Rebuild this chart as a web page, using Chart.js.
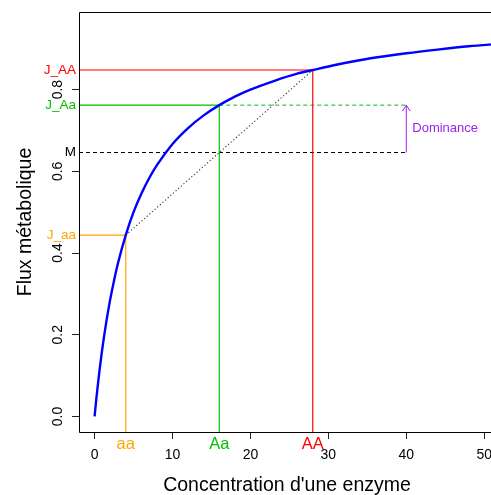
<!DOCTYPE html>
<html>
<head>
<meta charset="utf-8">
<script src="https://cdn.jsdelivr.net/npm/chart.js@4.4.1/dist/chart.umd.min.js"></script>
<style>
    html, body { margin: 0; padding: 0; overflow: hidden; background: #fff; }
    #wrap { width: 500px; height: 495px; position: relative; }
</style>
</head>
<body>
<div id="wrap"><canvas id="fluxChart"></canvas></div>
<script>
// enzyme concentration vs metabolic flux
const concentration = [0, 0.25, 0.5, 1, 1.5, 2, 2.5, 3, 4, 5, 6, 7, 8, 10, 12, 14, 16, 18, 20, 23, 26, 28, 31, 34, 37, 40, 44, 48, 52];
const flux = [0, 0.048, 0.091, 0.167, 0.231, 0.286, 0.333, 0.375, 0.444, 0.5, 0.545, 0.583, 0.615, 0.667, 0.706, 0.737, 0.762, 0.783, 0.8, 0.821, 0.839, 0.848, 0.861, 0.872, 0.881, 0.889, 0.898, 0.906, 0.912];

// genotypes
const genotypes = ['aa', 'Aa', 'AA'];
const genotypeConc = [4, 16, 28];
const genotypeFlux = [0.444, 0.762, 0.848];
const fluxLabels = ['J_aa', 'J_Aa', 'J_AA'];
const meanFlux = 0.646;
const dominanceX = 40;

const xTicks = [0, 10, 20, 30, 40, 50];
const yTicks = [0, 0.2, 0.4, 0.6, 0.8];
const yTickLabels = ['0.0', '0.2', '0.4', '0.6', '0.8'];

const X_MIN = -2, X_MAX = 52, Y_MIN = -0.038, Y_MAX = 0.99;
const genotypeColors = ['#FFA500', '#00C000', '#FF0000'];
const purple = '#A020F0';
const FONT = "'Liberation Sans', Arial, Helvetica, sans-serif";

const ctx = document.getElementById('fluxChart').getContext('2d');

const datasets = [];
datasets.push({
    data: concentration.map((c, i) => ({ x: c, y: flux[i] })),
    borderColor: '#0000FF',
    borderWidth: 2.4,
    cubicInterpolationMode: 'monotone',
    order: 0
});
genotypes.forEach((g, i) => {
    datasets.push({
        data: [
            { x: X_MIN, y: genotypeFlux[i] },
            { x: genotypeConc[i], y: genotypeFlux[i] },
            { x: genotypeConc[i], y: Y_MIN }
        ],
        borderColor: genotypeColors[i],
        borderWidth: 1.2,
        order: 2
    });
});
// heterozygote flux, extended to the arrow
datasets.push({
    data: [{ x: genotypeConc[1], y: genotypeFlux[1] }, { x: dominanceX, y: genotypeFlux[1] }],
    borderColor: genotypeColors[1],
    borderWidth: 1,
    borderDash: [4, 3],
    order: 2
});
// mean of homozygotes
datasets.push({
    data: [{ x: X_MIN, y: meanFlux }, { x: dominanceX, y: meanFlux }],
    borderColor: '#000',
    borderWidth: 1,
    borderDash: [4, 3],
    order: 2
});
// additive line between homozygotes
datasets.push({
    data: [{ x: genotypeConc[0], y: genotypeFlux[0] }, { x: genotypeConc[2], y: genotypeFlux[2] }],
    borderColor: '#333',
    borderWidth: 1.1,
    borderDash: [1.2, 2.3],
    order: 2
});
// dominance arrow shaft
datasets.push({
    data: [{ x: dominanceX, y: meanFlux }, { x: dominanceX, y: genotypeFlux[1] }],
    borderColor: purple,
    borderWidth: 1,
    order: 2
});
datasets.forEach(d => {
    d.showLine = true;
    d.pointRadius = 0;
    d.fill = false;
});

const annotations = {
    id: 'annotations',
    afterDraw(chart) {
        const { ctx, chartArea, scales: { x, y } } = chart;
        ctx.save();

        // box (right side falls outside the window)
        ctx.strokeStyle = '#000';
        ctx.lineWidth = 1;
        ctx.beginPath();
        ctx.moveTo(chartArea.right, chartArea.top + 0.5);
        ctx.lineTo(chartArea.left + 0.5, chartArea.top + 0.5);
        ctx.lineTo(chartArea.left + 0.5, chartArea.bottom + 0.5);
        ctx.lineTo(chartArea.right, chartArea.bottom + 0.5);
        ctx.stroke();

        // arrow head
        const ax = x.getPixelForValue(dominanceX);
        const ay = y.getPixelForValue(genotypeFlux[1]);
        ctx.strokeStyle = purple;
        ctx.beginPath();
        ctx.moveTo(ax - 4, ay + 6);
        ctx.lineTo(ax, ay);
        ctx.lineTo(ax + 4, ay + 6);
        ctx.stroke();

        ctx.fillStyle = purple;
        ctx.font = '13px ' + FONT;
        ctx.textAlign = 'left';
        ctx.textBaseline = 'middle';
        ctx.fillText('Dominance', ax + 6, y.getPixelForValue((meanFlux + genotypeFlux[1]) / 2));

        // y tick labels, rotated like R
        ctx.fillStyle = '#000';
        ctx.font = '14px ' + FONT;
        ctx.textAlign = 'center';
        ctx.textBaseline = 'alphabetic';
        yTicks.forEach((v, i) => {
            ctx.save();
            ctx.translate(61.5, y.getPixelForValue(v));
            ctx.rotate(-Math.PI / 2);
            ctx.fillText(yTickLabels[i], 0, 0);
            ctx.restore();
        });

        // flux labels in the margin
        ctx.font = '13.5px ' + FONT;
        ctx.textAlign = 'right';
        ctx.textBaseline = 'middle';
        genotypes.forEach((g, i) => {
            ctx.fillStyle = genotypeColors[i];
            ctx.fillText(fluxLabels[i], chartArea.left - 3, y.getPixelForValue(genotypeFlux[i]));
        });
        ctx.fillStyle = '#000';
        ctx.fillText('M', chartArea.left - 3, y.getPixelForValue(meanFlux));

        // genotype labels under the axis
        ctx.font = '16.5px ' + FONT;
        ctx.textAlign = 'center';
        ctx.textBaseline = 'alphabetic';
        genotypes.forEach((g, i) => {
            ctx.fillStyle = genotypeColors[i];
            ctx.fillText(g, x.getPixelForValue(genotypeConc[i]), chartArea.bottom + 17);
        });

        // axis titles
        ctx.fillStyle = '#000';
        ctx.font = '19.5px ' + FONT;
        ctx.fillText("Concentration d'une enzyme", 287, 491);
        ctx.save();
        ctx.translate(31, (chartArea.top + chartArea.bottom) / 2);
        ctx.rotate(-Math.PI / 2);
        ctx.fillText('Flux métabolique', 0, 0);
        ctx.restore();

        ctx.restore();
    }
};

new Chart(ctx, {
    type: 'scatter',
    data: { datasets: datasets },
    options: {
        responsive: true,
        maintainAspectRatio: false,
        animation: false,
        layout: { padding: { top: 12, left: 0, right: 0, bottom: 0 } },
        plugins: {
            legend: { display: false },
            tooltip: { enabled: false }
        },
        scales: {
            x: {
                type: 'linear',
                min: X_MIN,
                max: X_MAX,
                afterBuildTicks: s => { s.ticks = xTicks.map(v => ({ value: v })); },
                afterFit: s => { s.height = 63; },
                border: { display: false },
                grid: { drawOnChartArea: false, drawTicks: true, tickLength: 7, color: '#222' },
                ticks: {
                    color: '#000',
                    padding: 8,
                    maxRotation: 0,
                    font: { size: 14, family: FONT }
                }
            },
            y: {
                type: 'linear',
                min: Y_MIN,
                max: Y_MAX,
                afterBuildTicks: s => { s.ticks = yTicks.map(v => ({ value: v })); },
                afterFit: s => { s.width = 79; },
                border: { display: false },
                grid: { drawOnChartArea: false, drawTicks: true, tickLength: 7, color: '#222' },
                ticks: { display: false }
            }
        }
    },
    plugins: [annotations]
});
</script>
</body>
</html>
